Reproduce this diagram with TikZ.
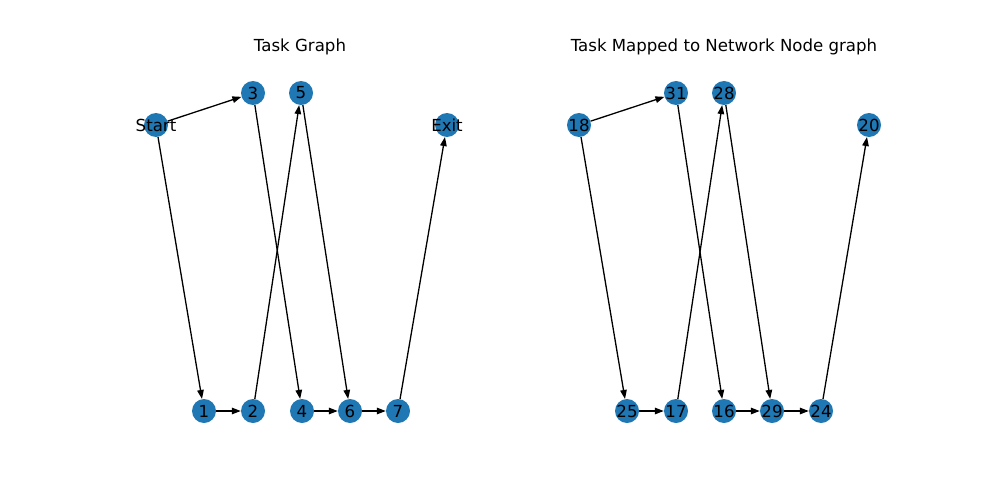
\documentclass[tikz,border=0pt]{standalone}
\usepackage{fontspec}
\setmainfont{DejaVu Sans}
\usetikzlibrary{arrows.meta}
\definecolor{tabblue}{RGB}{31,119,180}

\begin{document}
\begin{tikzpicture}[x=1pt, y=-1pt, >={Triangle[length=9pt,width=6.5pt]},
        task/.style={circle, fill=tabblue, minimum size=24pt, inner sep=0pt},
        edge/.style={->, line width=1.3pt, black},
        every label/.style={font=\fontsize{16.6}{20}\selectfont, inner sep=0pt}]
            \useasboundingbox (0,0) rectangle (1000,500);

            % Task graph
            \node[font=\fontsize{16.6}{20}\selectfont] (title-l) at (300,47) {Task Graph};
            \node[task, label={center:Start}] (start) at (156,125) {};
            \node[task, label={center:3}] (t3) at (253,93) {};
            \node[task, label={center:5}] (t5) at (301,93) {};
            \node[task, label={center:Exit}] (exit) at (447,125) {};
            \node[task, label={center:1}] (t1) at (204,411) {};
            \node[task, label={center:2}] (t2) at (253,411) {};
            \node[task, label={center:4}] (t4) at (302,411) {};
            \node[task, label={center:6}] (t6) at (350,411) {};
            \node[task, label={center:7}] (t7) at (398,411) {};

            % Mapped graph
            \node[font=\fontsize{16.6}{20}\selectfont] (title-r) at (724,47) {Task Mapped to Network Node graph};
            \node[task, label={center:18}] (n18) at (579,125) {};
            \node[task, label={center:31}] (n31) at (676,93) {};
            \node[task, label={center:28}] (n28) at (724,93) {};
            \node[task, label={center:20}] (n20) at (869,125) {};
            \node[task, label={center:25}] (n25) at (627,411) {};
            \node[task, label={center:17}] (n17) at (676,411) {};
            \node[task, label={center:16}] (n16) at (724,411) {};
            \node[task, label={center:29}] (n29) at (772,411) {};
            \node[task, label={center:24}] (n24) at (821,411) {};

            % Connections: task graph
            \draw[edge] (start) -- (t3);
            \draw[edge] (start) -- (t1);
            \draw[edge] (t1) -- (t2);
            \draw[edge] (t2) -- (t5);
            \draw[edge] (t3) -- (t4);
            \draw[edge] (t5) -- (t6);
            \draw[edge] (t4) -- (t6);
            \draw[edge] (t6) -- (t7);
            \draw[edge] (t7) -- (exit);

            % Connections: mapped graph
            \draw[edge] (n18) -- (n31);
            \draw[edge] (n18) -- (n25);
            \draw[edge] (n25) -- (n17);
            \draw[edge] (n17) -- (n28);
            \draw[edge] (n31) -- (n16);
            \draw[edge] (n28) -- (n29);
            \draw[edge] (n16) -- (n29);
            \draw[edge] (n29) -- (n24);
            \draw[edge] (n24) -- (n20);

        \end{tikzpicture}
\end{document}
